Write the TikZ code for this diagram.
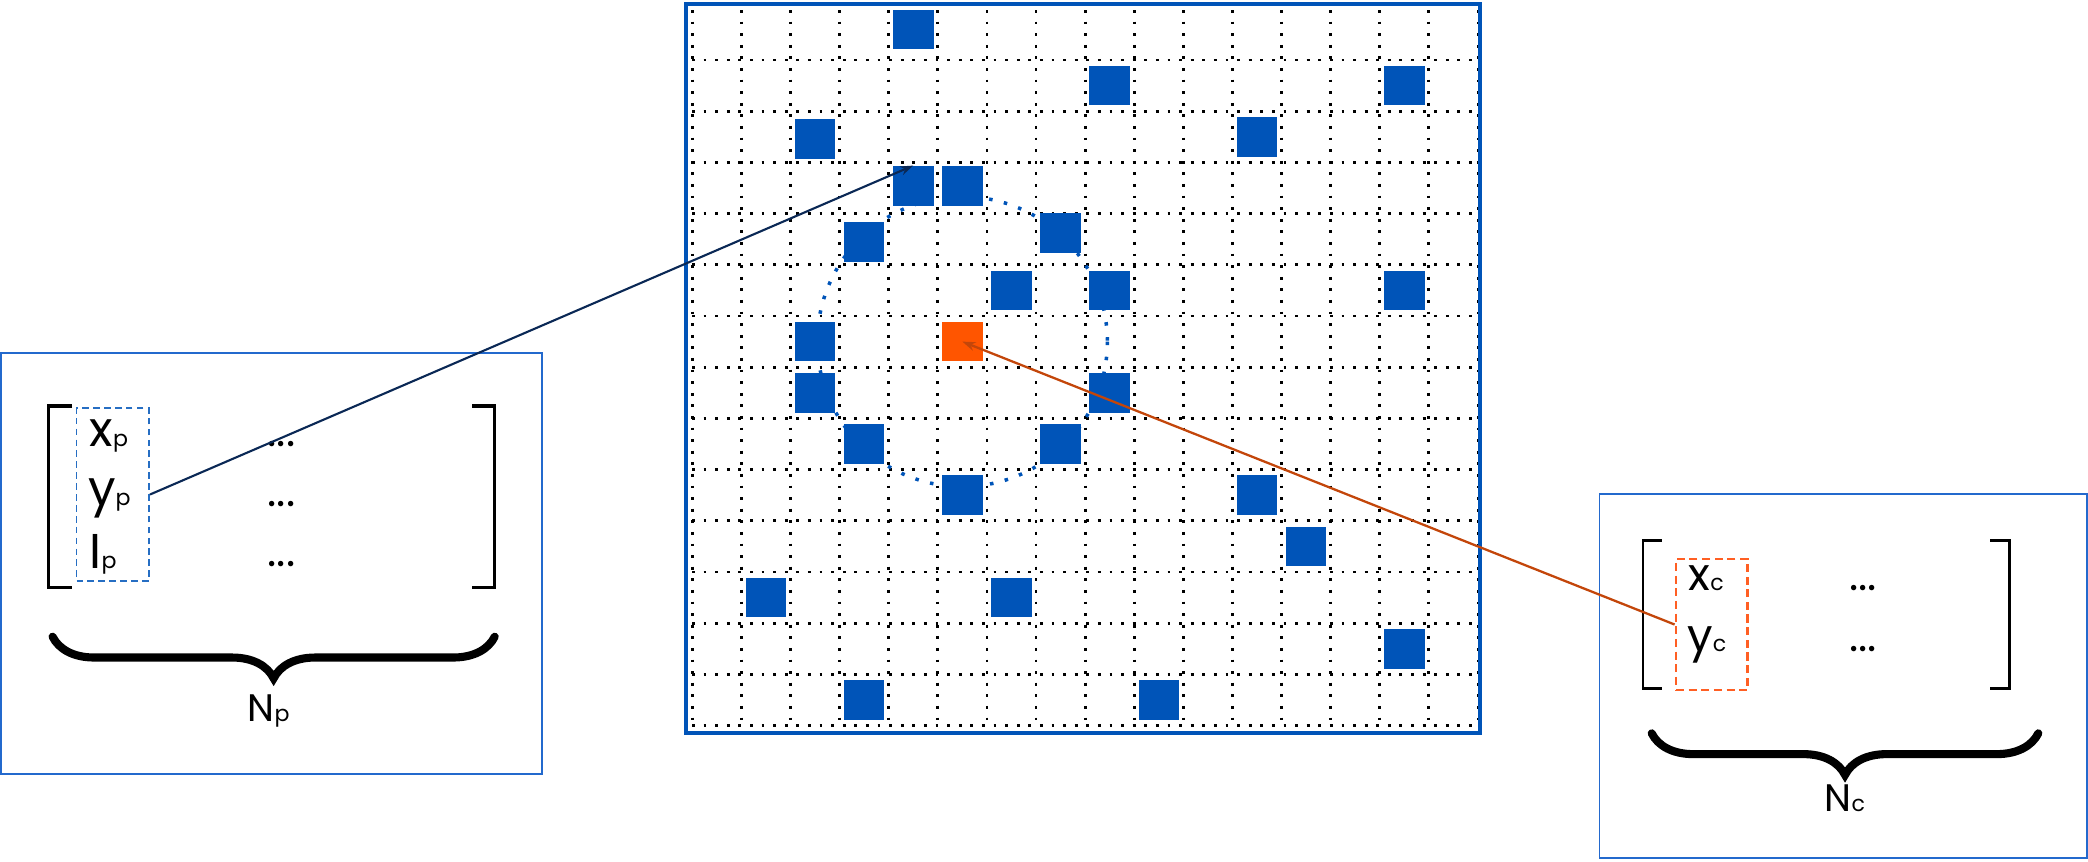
\documentclass[tikz,border=0pt]{standalone}
\usepackage{fontspec}
\setmainfont{Poppins}
\usetikzlibrary{arrows.meta,decorations.pathreplacing}
\definecolor{sqblue}{RGB}{0,84,184}
\definecolor{boxblue}{RGB}{35,105,205}
\definecolor{hitorange}{RGB}{255,85,0}
\definecolor{dashorange}{RGB}{255,95,35}
\definecolor{linkorange}{RGB}{195,70,10}
\definecolor{linknavy}{RGB}{10,40,85}
\newcommand\idx[1]{{\fontsize{6.3}{7}\selectfont #1}}

\begin{document}
\begin{tikzpicture}[x=0.1mm, y=-0.1mm,
    >={Stealth[length=1.3mm, width=0.9mm]},
    cell/.style={fill=sqblue, minimum width=4.05mm, minimum height=3.95mm, inner sep=0pt},
    gridline/.style={line width=0.8pt, dash pattern=on 0.8pt off 2.5pt},
    ring/.style={sqblue, line width=1pt, dash pattern=on 1pt off 3.3pt},
    panel/.style={draw=boxblue, line width=0.45pt},
    pcol/.style={draw=sqblue!85!white, line width=0.55pt, dash pattern=on 1.9pt off 1.2pt,
        minimum width=7.25mm, minimum height=17.24mm, inner sep=0pt},
    ccol/.style={draw=dashorange, line width=0.8pt, dash pattern=on 2.3pt off 1.3pt,
        minimum width=7.17mm, minimum height=13.1mm, inner sep=0pt},
    entry/.style={anchor=base west, inner sep=0pt, font=\fontsize{13.9}{16}\selectfont},
    more/.style={anchor=base, inner sep=0pt, font=\fontsize{12.5}{15}\selectfont},
    total/.style={anchor=base west, inner sep=0pt, font=\fontsize{10.9}{13}\selectfont},
    bracket/.style={line width=1pt},
    curly/.style={decorate, decoration={brace, mirror, amplitude=4.16mm}, line width=2.3pt, line cap=round},
    link/.style={->, line width=0.6pt}]

  \useasboundingbox (0,0) rectangle (2088,861);

  % image grid
  \foreach \i in {0,...,16}
    \draw[gridline] ({692.3+49.1*\i},10) -- ({692.3+49.1*\i},726);
  \foreach \j in {1,...,14}
    \draw[gridline] (692,{8.8+51.2*\j}) -- (1479,{8.8+51.2*\j});
  \draw[sqblue, line width=1.1pt] (686,4) rectangle (1480,733);

  % current pixel and its neighbourhood
  \node[cell, fill=hitorange] (cen) at ({692.3+49.1*5.5},{8.8+51.2*6.5}) {};
  \draw[ring] (cen.center) circle[radius=145];

  \foreach \c/\r/\d in {4/0/-5, 8/1/0, 14/1/0, 2/2/2, 11/2/0, 4/3/-2, 5/3/-2,
      3/4/3, 7/4/-6, 6/5/0, 8/5/0, 14/5/0, 2/6/0, 2/7/0, 8/7/0, 3/8/0, 7/8/0,
      5/9/0, 11/9/0, 12/10/0, 1/11/0, 6/11/0, 14/12/0, 3/13/0, 9/13/0}
    \node[cell] (s-\c-\r) at ({692.3+49.1*(\c+0.5)},{8.8+51.2*(\r+0.5)+\d}) {};

  % point list
  \draw[panel] (1,353) rectangle (542,774);
  \draw[bracket] (72,406) -- (48.5,406) -- (48.5,587.3) -- (72,587.3);
  \draw[bracket] (472,406) -- (494.7,406) -- (494.7,587.3) -- (472,587.3);
  \node[pcol] (colp) at (112.75,494.5) {};
  \node[entry] (xp) at (89,446.7) {x\idx{p}};
  \node[entry] (yp) at (87.5,505) {y\idx{p}};
  \node[entry] (ip) at (89,568) {I\idx{p}};
  \node[more] (dp1) at (281.5,446.5) {...};
  \node[more] (dp2) at (281.5,506.5) {...};
  \node[more] (dp3) at (281.5,566.5) {...};
  \draw[curly] (52.6,636.7) -- (494.7,636.7);
  \node[total] (np) at (247,721.7) {N\idx{p}};

  % candidate list
  \draw[panel] (1599.3,494) rectangle (2087,858);
  \draw[bracket, line width=0.8pt] (1661.7,540.7) -- (1643,540.7) -- (1643,688.7) -- (1661.7,688.7);
  \draw[bracket, line width=0.8pt] (1990,540.7) -- (2009.5,540.7) -- (2009.5,688.7) -- (1990,688.7);
  \node[ccol] (colc) at (1711.85,624.5) {};
  \node[entry, font=\fontsize{12.9}{15}\selectfont] (xc) at (1688,590.7) {x\idx{c}};
  \node[entry, font=\fontsize{12.9}{15}\selectfont] (yc) at (1686.5,651.7) {y\idx{c}};
  \node[more] (dc1) at (1863,590.5) {...};
  \node[more] (dc2) at (1863,651) {...};
  \draw[curly] (1651.7,733.3) -- (2038.3,733.3);
  \node[total] (nc) at (1824,811.7) {N\idx{c}};

  \draw[link, linknavy] (colp.east) -- (s-4-3.north);
  \draw[link, linkorange, line width=0.65pt] (colc.west) -- (cen.center);
\end{tikzpicture}
\end{document}
